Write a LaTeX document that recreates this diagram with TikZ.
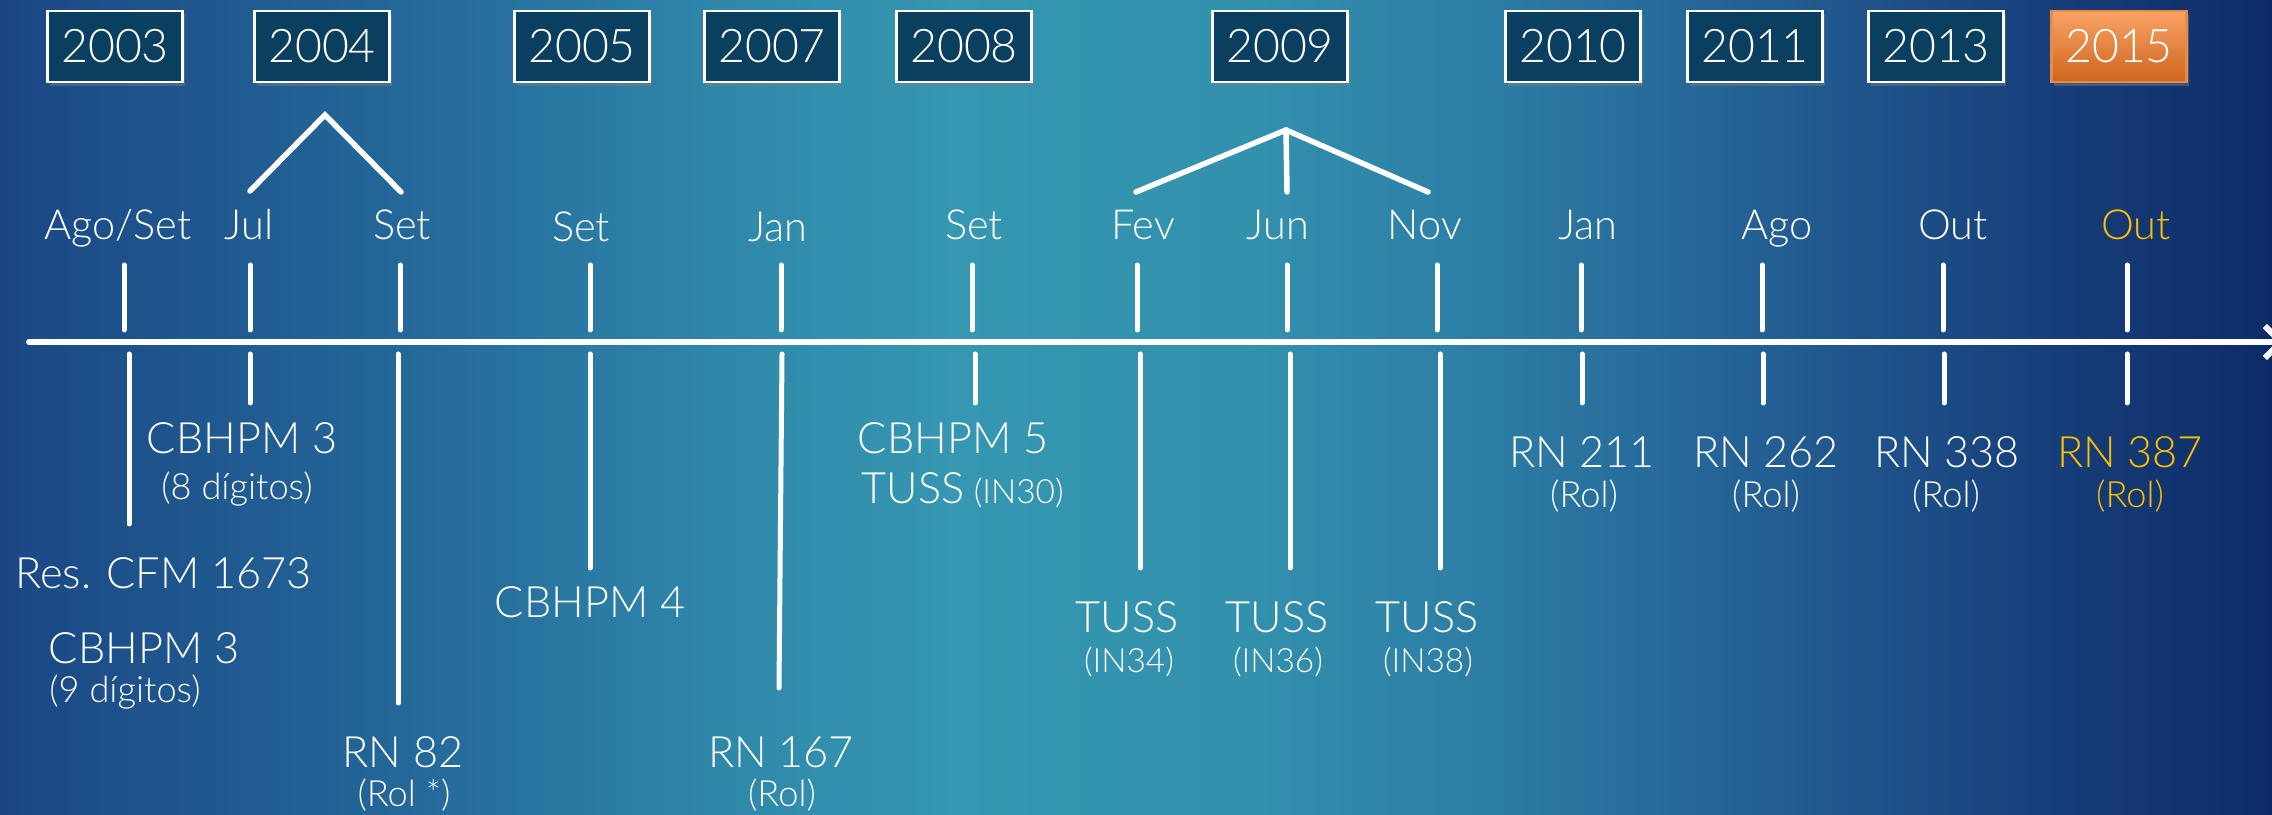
\documentclass[tikz,border=0pt]{standalone}
\usepackage{fontspec}
\IfFontExistsTF{Lato Light}{\setmainfont{Lato Light}}{\setmainfont{Lato}}
\usetikzlibrary{positioning,arrows.meta,shadows}

\definecolor{bgA}{HTML}{1A4784}
\definecolor{bgB}{HTML}{256A9B}
\definecolor{bgC}{HTML}{2F88AA}
\definecolor{bgD}{HTML}{3597B1}
\definecolor{bgE}{HTML}{3291AD}
\definecolor{bgF}{HTML}{2C7CA4}
\definecolor{bgG}{HTML}{235E93}
\definecolor{bgH}{HTML}{173F7B}
\definecolor{bgI}{HTML}{0D2C67}
\definecolor{boxfill}{HTML}{0B3F5F}
\definecolor{orgtop}{HTML}{F9A466}
\definecolor{orgbot}{HTML}{CE641C}
\definecolor{gold}{HTML}{FFC000}

\pgfdeclarehorizontalshading{bgshade}{100bp}{color(0bp)=(bgA); color(25bp)=(bgA); color(34.5bp)=(bgB); color(41bp)=(bgC); color(46bp)=(bgD); color(52.5bp)=(bgE); color(58bp)=(bgF); color(64bp)=(bgG); color(70bp)=(bgH); color(75bp)=(bgI); color(100bp)=(bgI)}

\begin{document}
\begin{tikzpicture}[
  yearbox/.style={draw=white,line width=0.6pt,fill=boxfill,minimum width=1.35cm,minimum height=0.71cm,inner sep=0pt,font=\fontsize{13.2}{15}\selectfont,text=white,drop shadow={opacity=0.45,shadow xshift=0.02cm,shadow yshift=-0.04cm}},
  hotbox/.style={yearbox,draw=orgtop!60!orgbot,top color=orgtop,bottom color=orgbot},
  month/.style={anchor=base,inner sep=0pt,text=white,font=\fontsize{11.8}{13}\selectfont},
  big/.style={anchor=base,inner sep=0pt,text=white,font=\fontsize{12.3}{14}\selectfont},
  small/.style={anchor=base,inner sep=0pt,text=white,font=\fontsize{10.3}{12}\selectfont},
  tiny/.style={anchor=base,inner sep=0pt,text=white,font=\fontsize{9.5}{11}\selectfont},
  tick/.style={white,line width=0.05cm,line cap=round},
  axis/.style={white,line width=0.06cm,line cap=round},
  hat/.style={white,line width=0.055cm,line cap=round,line join=miter}
]
\shade[shading=bgshade] (0,0) rectangle (22.72,-8.15);
\useasboundingbox (0,0) rectangle (22.72,-8.15);

% years
\node[yearbox] (Y2003) at (1.15,-0.465) {2003};
\node[yearbox] (Y2004) at (3.22,-0.465) {2004};
\node[yearbox] (Y2005) at (5.82,-0.465) {2005};
\node[yearbox] (Y2007) at (7.72,-0.465) {2007};
\node[yearbox] (Y2008) at (9.64,-0.465) {2008};
\node[yearbox] (Y2009) at (12.80,-0.465) {2009};
\node[yearbox] (Y2010) at (15.73,-0.465) {2010};
\node[yearbox] (Y2011) at (17.55,-0.465) {2011};
\node[yearbox] (Y2013) at (19.36,-0.465) {2013};
\node[hotbox] (Y2015) at (21.19,-0.465) {2015};

% brackets
\coordinate (H1) at (2.50,-1.91);
\coordinate (H2) at (3.25,-1.15);
\coordinate (H3) at (4.01,-1.92);
\coordinate (K1) at (11.36,-1.92);
\coordinate (K2) at (12.86,-1.30);
\coordinate (K3) at (14.28,-1.92);
\coordinate (K4) at (12.87,-1.92);
\draw[hat] (H1) -- (H2) -- (H3);
\draw[hat] (K1) -- (K2) -- (K3);
\draw[hat] (K2) -- (K4);

% months
\node[month] (M1) at (1.18,-2.40) {Ago/Set};
\node[month] (M2) at (2.49,-2.40) {Jul};
\node[month] (M3) at (4.02,-2.40) {Set};
\node[month] (M4) at (5.81,-2.42) {Set};
\node[month] (M5) at (7.78,-2.42) {Jan};
\node[month] (M6) at (9.74,-2.40) {Set};
\node[month] (M7) at (11.43,-2.40) {Fev};
\node[month] (M8) at (12.78,-2.40) {Jun};
\node[month] (M9) at (14.25,-2.40) {Nov};
\node[month] (M10) at (15.88,-2.40) {Jan};
\node[month] (M11) at (17.77,-2.40) {Ago};
\node[month] (M12) at (19.53,-2.40) {Out};
\node[month,text=gold] (M13) at (21.36,-2.40) {Out};

% axis
\coordinate (A0) at (0.29,-3.42);
\coordinate (A1) at (22.85,-3.42);
\draw[axis,-{Straight Barb[length=0.16cm,width=0.32cm]}] (A0) -- (A1);

% ticks above
\coordinate (T1) at (1.24,-2.65);  \coordinate (U1) at (1.24,-3.30);
\coordinate (T2) at (2.50,-2.65);  \coordinate (U2) at (2.50,-3.30);
\coordinate (T3) at (4.00,-2.65);  \coordinate (U3) at (4.00,-3.30);
\coordinate (T4) at (5.90,-2.65);  \coordinate (U4) at (5.90,-3.30);
\coordinate (T5) at (7.81,-2.65);  \coordinate (U5) at (7.81,-3.30);
\coordinate (T6) at (9.72,-2.65);  \coordinate (U6) at (9.72,-3.30);
\coordinate (T7) at (11.37,-2.65); \coordinate (U7) at (11.37,-3.30);
\coordinate (T8) at (12.87,-2.65); \coordinate (U8) at (12.87,-3.30);
\coordinate (T9) at (14.37,-2.65); \coordinate (U9) at (14.37,-3.30);
\coordinate (T10) at (15.81,-2.65); \coordinate (U10) at (15.81,-3.30);
\coordinate (T11) at (17.62,-2.65); \coordinate (U11) at (17.62,-3.30);
\coordinate (T12) at (19.43,-2.65); \coordinate (U12) at (19.43,-3.30);
\coordinate (T13) at (21.27,-2.65); \coordinate (U13) at (21.27,-3.30);
\draw[tick] (T1) -- (U1);
\draw[tick] (T2) -- (U2);
\draw[tick] (T3) -- (U3);
\draw[tick] (T4) -- (U4);
\draw[tick] (T5) -- (U5);
\draw[tick] (T6) -- (U6);
\draw[tick] (T7) -- (U7);
\draw[tick] (T8) -- (U8);
\draw[tick] (T9) -- (U9);
\draw[tick] (T10) -- (U10);
\draw[tick] (T11) -- (U11);
\draw[tick] (T12) -- (U12);
\draw[tick] (T13) -- (U13);

% ticks below
\coordinate (D1) at (1.29,-3.54);  \coordinate (E1) at (1.29,-5.24);
\coordinate (D2) at (2.50,-3.54);  \coordinate (E2) at (2.50,-4.03);
\coordinate (D3) at (3.98,-3.54);  \coordinate (E3) at (3.98,-7.03);
\coordinate (D4) at (5.90,-3.54);  \coordinate (E4) at (5.90,-5.68);
\coordinate (D5) at (7.82,-3.54);  \coordinate (E5) at (7.79,-6.88);
\coordinate (D6) at (9.75,-3.54);  \coordinate (E6) at (9.75,-4.03);
\coordinate (D7) at (11.40,-3.54); \coordinate (E7) at (11.40,-5.68);
\coordinate (D8) at (12.90,-3.54); \coordinate (E8) at (12.90,-5.68);
\coordinate (D9) at (14.40,-3.54); \coordinate (E9) at (14.40,-5.68);
\coordinate (D10) at (15.82,-3.54); \coordinate (E10) at (15.82,-4.03);
\coordinate (D11) at (17.63,-3.54); \coordinate (E11) at (17.63,-4.03);
\coordinate (D12) at (19.44,-3.54); \coordinate (E12) at (19.44,-4.03);
\coordinate (D13) at (21.27,-3.54); \coordinate (E13) at (21.27,-4.03);
\draw[tick] (D1) -- (E1);
\draw[tick] (D2) -- (E2);
\draw[tick] (D3) -- (E3);
\draw[tick] (D4) -- (E4);
\draw[tick] (D5) -- (E5);
\draw[tick] (D6) -- (E6);
\draw[tick] (D7) -- (E7);
\draw[tick] (D8) -- (E8);
\draw[tick] (D9) -- (E9);
\draw[tick] (D10) -- (E10);
\draw[tick] (D11) -- (E11);
\draw[tick] (D12) -- (E12);
\draw[tick] (D13) -- (E13);

% events
\node[big] (L1) at (2.42,-4.54) {CBHPM 3};
\node[small] (L1s) at (2.37,-5.00) {(8 dígitos)};
\node[big,anchor=base west] (L2) at (0.145,-5.89) {Res. CFM 1673};
\node[big] (L3) at (1.44,-6.64) {CBHPM 3};
\node[small] (L3s) at (1.25,-7.03) {(9 dígitos)};
\node[big] (L4) at (4.03,-7.68) {RN 82};
\node[small] (L4s) at (4.04,-8.06) {(Rol *)};
\node[big] (L5) at (5.90,-6.18) {CBHPM 4};
\node[big] (L6) at (7.81,-7.68) {RN 167};
\node[small] (L6s) at (7.82,-8.06) {(Rol)};
\node[big] (L7) at (9.53,-4.54) {CBHPM 5};
\node[big,anchor=base west] (L8) at (8.61,-5.04) {TUSS};
\node[tiny,anchor=base west] (L8s) at ([xshift=0.08cm]L8.base east) {(IN30)};
\node[big] (L9) at (11.27,-6.33) {TUSS};
\node[tiny] (L9s) at (11.29,-6.72) {(IN34)};
\node[big] (L10) at (12.77,-6.33) {TUSS};
\node[tiny] (L10s) at (12.78,-6.72) {(IN36)};
\node[big] (L11) at (14.27,-6.33) {TUSS};
\node[tiny] (L11s) at (14.28,-6.72) {(IN38)};
\node[big] (L12) at (15.82,-4.68) {RN 211};
\node[small] (L12s) at (15.84,-5.08) {(Rol)};
\node[big] (L13) at (17.66,-4.68) {RN 262};
\node[small] (L13s) at (17.66,-5.08) {(Rol)};
\node[big] (L14) at (19.47,-4.68) {RN 338};
\node[small] (L14s) at (19.46,-5.08) {(Rol)};
\node[big,text=gold] (L15) at (21.30,-4.68) {RN 387};
\node[small,text=gold] (L15s) at (21.30,-5.08) {(Rol)};
\end{tikzpicture}
\end{document}
